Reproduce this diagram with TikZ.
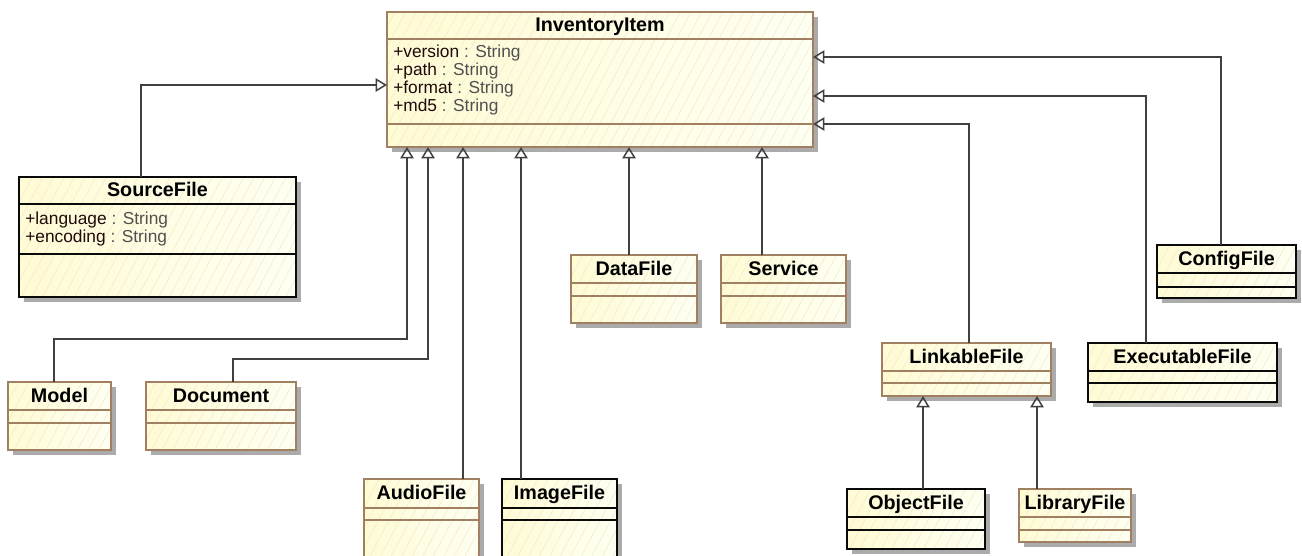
\documentclass[tikz,border=0pt]{standalone}
\usepackage{fontspec}
\setmainfont{Liberation Sans}
\usetikzlibrary{arrows.meta,patterns.meta,shadows,fit,calc}
\definecolor{brd}{RGB}{160,128,96}
\definecolor{blk}{RGB}{10,10,10}
\definecolor{lin}{RGB}{64,64,64}
\definecolor{hatch}{RGB}{238,233,208}
\definecolor{fillL}{RGB}{255,251,212}
\definecolor{fillR}{RGB}{255,255,242}
\definecolor{attrname}{RGB}{30,10,10}
\definecolor{attrtype}{RGB}{80,80,80}
\tikzset{
 classbox/.style={rectangle, inner sep=0pt, outer sep=0pt, line width=1pt,
   left color=fillL, right color=fillR,
   drop shadow={shadow xshift=3.8pt, shadow yshift=-3.8pt, fill=black!33, opacity=1},
   postaction={pattern={Lines[angle=62,distance=7pt,line width=0.35pt]}, pattern color=hatch}},
 ctitle/.style={font=\bfseries\fontsize{14.8}{16}\selectfont, inner sep=0pt, anchor=base},
 cattr/.style={font=\fontsize{13}{13.5}\selectfont, anchor=base west, inner sep=0pt},
 gen/.style={draw=lin, line width=1.1pt, -{Triangle[open, length=8.5pt, width=10pt, line width=1.1pt]}},
}
% #1 name, #2 x1, #3 y1, #4 x2, #5 y2, #6 sep1, #7 sep2, #8 border colour, #9 title
\newcommand\umlclass[9]{%
 \node[classbox, fit={(#2,#3) (#4,#5)}] (#1) {};
 \draw[#8, line width=1pt] (#1.north west) rectangle (#1.south east);
 \draw[#8, line width=1pt] (#2,#6) -- (#4,#6) (#2,#7) -- (#4,#7);
 \node[ctitle] (#1-title) at ({(#2+#4)/2},{(#3+#6)/2+6}) {#9};
}
\newcommand\umlattr[4]{% name, x, y, attribute
 \node[cattr] (#1) at (#2,#3) {\textcolor{attrname}{+#4} \textcolor{attrtype}{: String}};
}
\begin{document}
\begin{tikzpicture}[x=0.75pt,y=-0.75pt]
\useasboundingbox (0,0) rectangle (1302,556);
\clip (0,0) rectangle (1302,556);
\fill[white] (0,0) rectangle (1302,556);

\umlclass{inv}{387}{12}{813}{147}{39}{124}{brd}{InventoryItem}
\umlattr{a1}{393}{58}{version}
\umlattr{a2}{393}{76}{path}
\umlattr{a3}{393}{94}{format}
\umlattr{a4}{393}{112}{md5}

\umlclass{src}{19}{177}{296}{297}{204}{254}{blk}{SourceFile}
\umlattr{s1}{25}{224}{language}
\umlattr{s2}{25}{242}{encoding}

\umlclass{model}{8}{382}{111}{450}{410}{423}{brd}{Model}
\umlclass{doc}{146}{382}{296}{450}{410}{423}{brd}{Document}
\umlclass{audio}{364}{479}{479}{580}{508}{520}{brd}{AudioFile}
\umlclass{image}{502}{479}{617}{580}{508}{520}{blk}{ImageFile}
\umlclass{data}{571}{255}{697}{323}{283}{296}{brd}{DataFile}
\umlclass{service}{721}{255}{846}{323}{283}{296}{brd}{Service}
\umlclass{link}{882}{343}{1051}{396}{371}{383}{brd}{LinkableFile}
\umlclass{obj}{847}{489}{985}{549}{517}{530}{blk}{ObjectFile}
\umlclass{lib}{1019}{489}{1131}{542}{517}{530}{brd}{LibraryFile}
\umlclass{exe}{1088}{343}{1277}{402}{371}{383}{blk}{ExecutableFile}
\umlclass{cfg}{1157}{245}{1296}{298}{273}{287}{blk}{ConfigFile}

\draw[gen] ($(src.north west)+(122,0)$) |- ($(inv.north west)+(0,73)$);
\draw[gen] ($(model.north west)+(46,0)$) |- (407,339) -- ($(inv.south west)+(20,0)$);
\draw[gen] ($(doc.north west)+(87,0)$) |- (428,359) -- ($(inv.south west)+(41,0)$);
\draw[gen] ($(audio.north west)+(99,0)$) -- ($(inv.south west)+(76,0)$);
\draw[gen] ($(image.north west)+(19,0)$) -- ($(inv.south west)+(134,0)$);
\draw[gen] ($(data.north west)+(58,0)$) -- ($(inv.south west)+(242,0)$);
\draw[gen] ($(service.north west)+(41,0)$) -- ($(inv.south west)+(375,0)$);
\draw[gen] ($(link.north west)+(87,0)$) |- ($(inv.north east)+(0,112)$);
\draw[gen] ($(exe.north west)+(58,0)$) |- ($(inv.north east)+(0,84)$);
\draw[gen] ($(cfg.north west)+(64,0)$) |- ($(inv.north east)+(0,45)$);
\draw[gen] ($(obj.north west)+(76,0)$) -- ($(link.south west)+(41,0)$);
\draw[gen] ($(lib.north west)+(18,0)$) -- ($(link.south west)+(155,0)$);
\end{tikzpicture}
\end{document}
